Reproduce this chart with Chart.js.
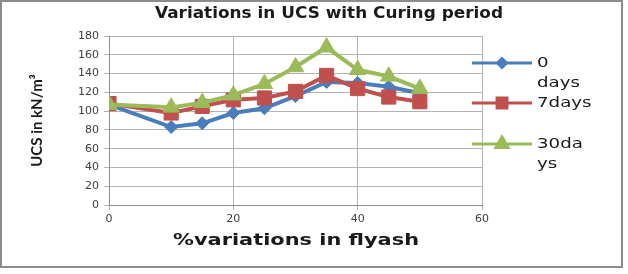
<!DOCTYPE html>
<html>
<head>
<meta charset="utf-8">
<script src="https://cdn.jsdelivr.net/npm/chart.js@4/dist/chart.umd.min.js"></script>
<style>
  html, body { margin: 0; padding: 0; background: #fff; }
  #wrap { width: 628px; height: 274px; position: relative; }
</style>
</head>
<body>
<div id="wrap"><canvas id="chart" width="628" height="274"></canvas></div>
<script>
// datos
const flyash = [0, 10, 15, 20, 25, 30, 35, 40, 45, 50];
const days0 = [107, 83, 87, 98, 103, 116, 131, 130, 126, 119];
const days7 = [108, 98, 105, 112, 114, 121, 138, 124, 115, 110];
const days30 = [107, 104, 109, 117, 129, 147, 168, 144, 137, 124];
const seriesLabels = ['0 days', '7days', '30days'];
const legendLines = [['0', 'days'], ['7days'], ['30da', 'ys']];
const xTicks = [0, 20, 40, 60];
const yTicks = [0, 20, 40, 60, 80, 100, 120, 140, 160, 180];

const titleText = 'Variations in UCS with Curing period';
const xTitle = '%variations in flyash';
const yTitle = 'UCS in kN/m³';

const colors = ['#4a7ebb', '#c0504d', '#9bbb59'];
const styles = ['rectRot', 'rect', 'triangle'];
const radii = [6.5, 10, 9.5];
const legendRadii = [4.5, 7, 7];

function points(ys) {
  return flyash.map((x, i) => ({ x, y: ys[i] }));
}

const datasets = [days0, days7, days30].map((vals, i) => ({
  label: seriesLabels[i],
  data: points(vals),
  borderColor: colors[i],
  backgroundColor: colors[i],
  borderWidth: 4,
  pointStyle: styles[i],
  pointRadius: radii[i],
  pointBorderWidth: 1,
  pointBackgroundColor: colors[i],
  pointBorderColor: colors[i],
  tension: 0,
  order: 2 - i
}));

// texto estirado al ancho del original
function stretchedText(ctx, text, x, y, width) {
  const w = ctx.measureText(text).width;
  ctx.save();
  ctx.translate(x, y);
  ctx.scale(width / w, 1);
  ctx.fillText(text, 0, 0);
  ctx.restore();
}

// titulo, leyenda y marco dibujados a mano
const decor = {
  id: 'decor',
  afterDraw(chart) {
    const ctx = chart.ctx;
    ctx.save();
    ctx.textBaseline = 'middle';
    ctx.textAlign = 'left';

    // titulo
    ctx.fillStyle = '#1a1a1a';
    ctx.font = 'bold 15px "DejaVu Sans"';
    stretchedText(ctx, titleText, 155, 14, 348);

    // titulo eje x
    ctx.font = 'bold 16px "DejaVu Sans"';
    stretchedText(ctx, xTitle, 173, 241, 246);

    // leyenda
    const rows = [63, 103, 144];
    chart.data.datasets.forEach((ds, i) => {
      const y = rows[i];
      ctx.strokeStyle = ds.borderColor;
      ctx.lineWidth = 3;
      ctx.beginPath();
      ctx.moveTo(472, y);
      ctx.lineTo(532, y);
      ctx.stroke();
      ctx.fillStyle = ds.borderColor;
      Chart.helpers.drawPoint(ctx, { pointStyle: ds.pointStyle, radius: legendRadii[i], borderWidth: 1 }, 502, y);
      ctx.fill();
      ctx.fillStyle = '#1a1a1a';
      ctx.font = '14px "DejaVu Sans"';
      legendLines[i].forEach((line, j) => {
        ctx.save();
        ctx.translate(537, y + j * 20);
        ctx.scale(1.3, 1);
        ctx.fillText(line, 0, 0);
        ctx.restore();
      });
    });

    // marco
    ctx.strokeStyle = '#8c8c8c';
    ctx.lineWidth = 2;
    ctx.strokeRect(1, 1, 621, 266);
    ctx.restore();
  }
};

new Chart(document.getElementById('chart'), {
  type: 'line',
  data: { datasets },
  plugins: [decor],
  options: {
    responsive: false,
    animation: false,
    layout: { padding: { left: 28, right: 146, top: 36, bottom: 19 } },
    plugins: {
      legend: { display: false },
      title: { display: false },
      tooltip: { enabled: false }
    },
    scales: {
      x: {
        type: 'linear',
        min: 0,
        max: 60,
        afterBuildTicks(scale) { scale.ticks = xTicks.map(v => ({ value: v })); },
        afterFit(scale) { scale.height = 50; },
        ticks: { color: '#404040', font: { family: 'DejaVu Sans', size: 11 }, padding: 3 },
        grid: { color: '#b3b3b3', tickLength: 5, lineWidth: 1 },
        border: { color: '#8c8c8c', width: 1 },
        title: { display: false }
      },
      y: {
        min: 0,
        max: 180,
        afterBuildTicks(scale) { scale.ticks = yTicks.map(v => ({ value: v })); },
        afterFit(scale) { scale.width = 109 - 28; },
        ticks: { color: '#404040', font: { family: 'DejaVu Sans', size: 11 }, padding: 5 },
        grid: { color: '#b3b3b3', tickLength: 5, lineWidth: 1 },
        border: { color: '#8c8c8c', width: 1 },
        title: {
          display: true,
          text: yTitle,
          color: '#1a1a1a',
          font: { family: 'Lato', size: 15, weight: 'bold' },
          padding: { top: 0, bottom: 0 }
        }
      }
    }
  }
});
</script>
</body>
</html>
